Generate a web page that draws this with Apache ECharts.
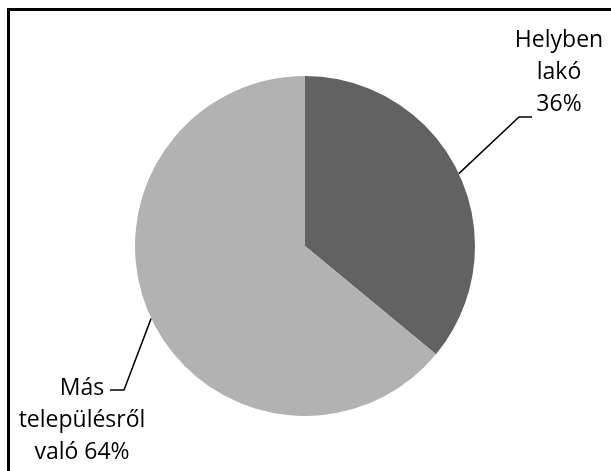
<!DOCTYPE html>
<html>
<head>
<meta charset="utf-8">
<script src="https://cdn.jsdelivr.net/npm/echarts@6/dist/echarts.min.js"></script>
<style>
  html, body { margin: 0; padding: 0; background: #fff; }
  #chart { position: absolute; left: 0; top: 0; width: 611px; height: 471px; }
  #frame {
    position: absolute; left: 7px; top: 8px; width: 620px; height: 480px;
    border-left: 3px solid #000; border-top: 3px solid #000; pointer-events: none;
  }
</style>
</head>
<body>
<div id="chart"></div>
<div id="frame"></div>
<script>
// values
var names = ['Helyben lakó', 'Más településről való']
var values = [36, 64]
var colors = ['#626262', '#b2b2b2']
// how each label text is broken before the percent
var labelHeads = ['Helyben\nlakó\n', 'Más\ntelepülésről\nvaló ']

var chart = echarts.init(document.getElementById('chart'))

var option = {
  animation: false,
  series: [
    {
      type: 'pie',
      center: [305, 246],
      radius: 170,
      startAngle: 90,
      clockwise: true,
      avoidLabelOverlap: false,
      data: names.map(function (n, i) {
        return { name: n, value: values[i], itemStyle: { color: colors[i] } }
      }),
      itemStyle: { borderWidth: 0 },
      label: {
        show: true,
        position: 'outside',
        fontFamily: 'Open Sans',
        fontSize: 23,
        lineHeight: 32,
        color: '#000',
        align: 'center',
        formatter: function (p) {
          return labelHeads[p.dataIndex] + p.value + '%'
        }
      },
      labelLine: {
        show: true,
        lineStyle: { color: '#000', width: 1.5 }
      },
      labelLayout: function (params) {
        var start = params.labelLinePoints[0]
        if (params.dataIndex === 0) {
          return {
            x: 559, y: 72, align: 'center', verticalAlign: 'middle',
            labelLinePoints: [start, [519, 117], [532, 117]]
          }
        }
        return {
          x: 82, y: 420, align: 'center', verticalAlign: 'middle',
          labelLinePoints: [start, [124, 390], [110, 390]]
        }
      }
    }
  ]
}
chart.setOption(option)
</script>
</body>
</html>
